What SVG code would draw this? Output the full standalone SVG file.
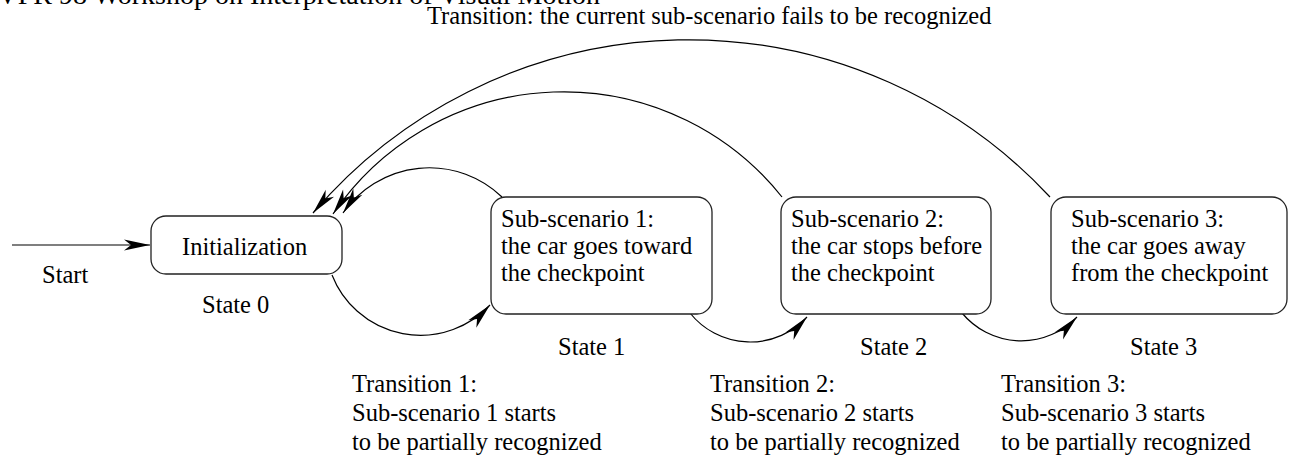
<svg xmlns="http://www.w3.org/2000/svg" width="1289" height="458" viewBox="0 0 1289 458">
<style>
text{font-family:"Liberation Serif","Times New Roman",serif;font-size:24.5px;fill:#000}
.box{fill:#fff;stroke:#222;stroke-width:1.3}
.conn{fill:none;stroke:#000;stroke-width:1.2}
.hdr{font-size:28px}
</style>
<defs>
<marker id="arr" viewBox="-28 -7 30 14" markerWidth="30" markerHeight="14" refX="0" refY="0" orient="auto" markerUnits="userSpaceOnUse" overflow="visible">
<path d="M0,0 L-26,-5.5 L-19,0 L-26,5.5 Z" fill="#000"/>
</marker>
</defs>
<rect width="1289" height="458" fill="#fff"/>
<text class="hdr" x="600" y="4" text-anchor="end">CVPR 98 Workshop on Interpretation of Visual Motion</text>
<text id="fail-label" x="427" y="24">Transition: the current sub-scenario fails to be recognized</text>
<g id="connectors">
<path class="conn" d="M12,245 H150" marker-end="url(#arr)"/>
<path class="conn" d="M332,275 A95,95 0 0 0 490,305" marker-end="url(#arr)"/>
<path class="conn" d="M690,313 A77,77 0 0 0 807,317" marker-end="url(#arr)"/>
<path class="conn" d="M962,313 A77,77 0 0 0 1077,317" marker-end="url(#arr)"/>
<path class="conn" d="M502,197 A105,105 0 0 0 343,213" marker-end="url(#arr)"/>
<path class="conn" d="M782,197 A279,279 0 0 0 333,214" marker-end="url(#arr)"/>
<path class="conn" d="M1050,197 A494,494 0 0 0 313,213" marker-end="url(#arr)"/>
</g>
<g id="start">
<text x="42" y="283">Start</text>
</g>
<g id="state0">
<rect class="box" x="151" y="216" width="191" height="58" rx="15"/>
<text x="182" y="255">Initialization</text>
<text x="202" y="313">State 0</text>
</g>
<g id="state1">
<rect class="box" x="491" y="197" width="221" height="117" rx="15"/>
<text x="501" y="227">Sub-scenario 1:</text>
<text x="501" y="254">the car goes toward</text>
<text x="501" y="281">the checkpoint</text>
<text x="558" y="355">State 1</text>
</g>
<g id="state2">
<rect class="box" x="781" y="197" width="210" height="117" rx="15"/>
<text x="791" y="227">Sub-scenario 2:</text>
<text x="791" y="254">the car stops before</text>
<text x="791" y="281">the checkpoint</text>
<text x="860" y="355">State 2</text>
</g>
<g id="state3">
<rect class="box" x="1051" y="197" width="236" height="117" rx="15"/>
<text x="1071" y="227">Sub-scenario 3:</text>
<text x="1071" y="254">the car goes away</text>
<text x="1071" y="281">from the checkpoint</text>
<text x="1130" y="355">State 3</text>
</g>
<g id="transition1">
<text x="352" y="392">Transition 1:</text>
<text x="352" y="421">Sub-scenario 1 starts</text>
<text x="352" y="450">to be partially recognized</text>
</g>
<g id="transition2">
<text x="710" y="392">Transition 2:</text>
<text x="710" y="421">Sub-scenario 2 starts</text>
<text x="710" y="450">to be partially recognized</text>
</g>
<g id="transition3">
<text x="1001" y="392">Transition 3:</text>
<text x="1001" y="421">Sub-scenario 3 starts</text>
<text x="1001" y="450">to be partially recognized</text>
</g>
</svg>
